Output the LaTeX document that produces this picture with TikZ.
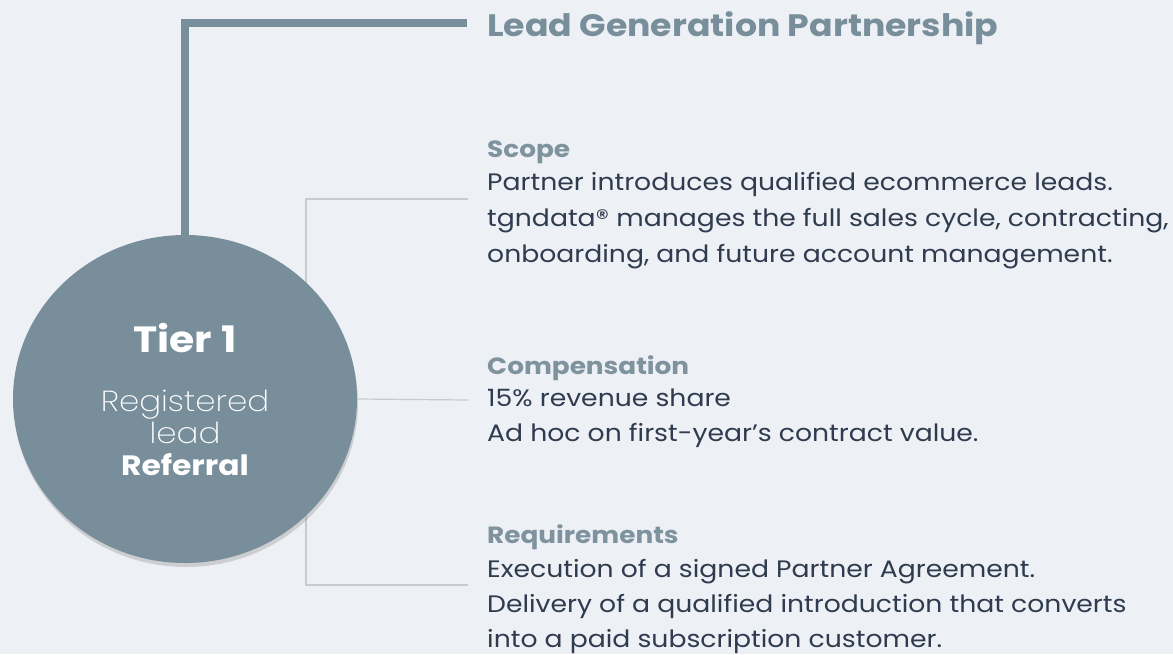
\documentclass[tikz,border=0pt]{standalone}
\usepackage{fontspec}
\setmainfont[FakeStretch=1.12]{Poppins}
\newfontfamily\poplight[FakeStretch=1.12]{Poppins ExtraLight}
\usetikzlibrary{shadows,shapes.geometric}
\definecolor{bg}{HTML}{EDF0F5}
\definecolor{slate}{HTML}{788F9B}
\definecolor{head}{HTML}{7F939E}
\definecolor{body}{HTML}{2F3B4E}
\definecolor{thin}{HTML}{C8CBCE}
\tikzset{
  heavy/.style={draw=slate, line width=8pt},
  thinline/.style={draw=thin, line width=1.2pt},
  sechead/.style={anchor=base west, inner sep=0pt, text=head, font=\fontsize{23.5}{28}\selectfont\bfseries},
  bodytxt/.style={anchor=base west, inner sep=0pt, text=body, font=\fontsize{23.8}{28}\selectfont},
  intxt/.style={anchor=base, inner sep=0pt, text=white},
}
\begin{document}
\begin{tikzpicture}[x=1pt,y=-1pt]
\fill[bg] (0,0) rectangle (1173,654);
\useasboundingbox (0,0) rectangle (1173,654);
% bracket behind circle
\coordinate (bt) at (468,199);
\coordinate (bb) at (468,585);
\coordinate (bv) at (306,199);
\draw[thinline] (bt) -- (bv) |- (bb);
% circle (slightly wide, as in the reference)
\node[ellipse, fill=slate, minimum width=344pt, minimum height=328pt, inner sep=0pt,
      drop shadow={opacity=0.3, shadow xshift=1pt, shadow yshift=-4pt}] (c) at (185,399) {};
\coordinate (bm) at (468,400);
\draw[thinline] (c.east) -- (bm);
% heavy connector
\coordinate (tl) at (467,23);
\draw[heavy] (c.north) |- (tl);
% title
\node[anchor=base west, inner sep=0pt, text=slate, font=\fontsize{31}{36}\selectfont\bfseries] (title) at (487,36) {Lead Generation Partnership};
% circle texts
\node[intxt, font=\fontsize{36.5}{40}\selectfont\bfseries] (tier) at (185,352) {Tier 1};
\node[intxt, font=\fontsize{29}{30}\selectfont\poplight] (reg) at (185,411) {Registered};
\node[intxt, font=\fontsize{29}{30}\selectfont\poplight] (lead) at (185,443) {lead};
\node[intxt, font=\fontsize{28}{30}\selectfont\bfseries] (ref) at (185,475) {Referral};
% scope
\node[sechead] (s0) at (487,157) {Scope};
\node[bodytxt] (s1) at (487,190) {Partner introduces qualified ecommerce leads.};
\node[bodytxt] (s2) at (487,226) {tgndata® manages the full sales cycle, contracting,};
\node[bodytxt] (s3) at (487,262) {onboarding, and future account management.};
% compensation
\node[sechead] (c0) at (487,374) {Compensation};
\node[bodytxt] (c1) at (487,406) {15\% revenue share};
\node[bodytxt] (c2) at (487,441) {Ad hoc on first-year’s contract value.};
% requirements
\node[sechead] (r0) at (487,543) {Requirements};
\node[bodytxt] (r1) at (487,577) {Execution of a signed Partner Agreement.};
\node[bodytxt] (r2) at (487,612) {Delivery of a qualified introduction that converts};
\node[bodytxt] (r3) at (487,647) {into a paid subscription customer.};
\end{tikzpicture}
\end{document}
